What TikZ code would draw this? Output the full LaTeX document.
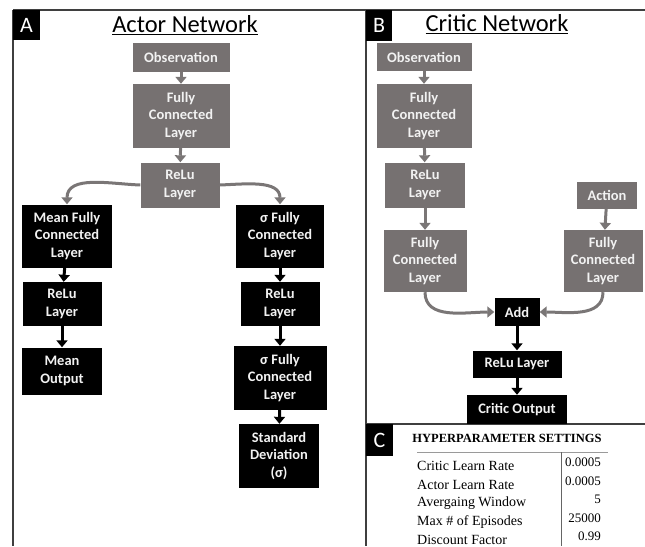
\documentclass[tikz,border=0pt]{standalone}
\usepackage{fontspec}
\setmainfont{Carlito}
\newfontfamily\tablefont{Liberation Serif}
\usepackage{xcolor}
\definecolor{BoxGray}{HTML}{767171}
\definecolor{ArrowGray}{HTML}{7A7676}
\definecolor{Frame}{HTML}{3F3F3F}
\definecolor{Rule}{HTML}{9A9A9A}
\definecolor{Ink}{HTML}{F2F2F2}
\usetikzlibrary{arrows.meta}

\begin{document}
\begin{tikzpicture}[
  x=1pt,y=1pt,
  layer/.style={inner sep=0pt,align=center,text=Ink,
    font=\bfseries\fontsize{14.5}{17.7}\selectfont},
  graybox/.style={layer,fill=BoxGray},
  blackbox/.style={layer,fill=black},
  tag/.style={fill=black,text=white,inner sep=0pt,font=\fontsize{22}{22}\selectfont},
  title/.style={font=\fontsize{24.5}{26}\selectfont},
  param/.style={font=\tablefont\fontsize{14}{16}\selectfont,inner sep=0pt},
  value/.style={param,font=\tablefont\fontsize{13}{15}\selectfont,anchor=east},
  grayarrow/.style={-{Triangle[length=7pt,width=11pt]},line width=3pt,draw=ArrowGray},
  blackarrow/.style={grayarrow,draw=black}
]
\useasboundingbox (0,0) rectangle (645,-546);

% panel frames
\draw[Frame,line width=1.5pt] (13,-10) -- (645,-10);
\draw[Frame,line width=1.5pt] (13,-10) -- (13,-546);
\draw[Frame,line width=1.5pt] (366,-10) -- (366,-546);
\draw[Frame,line width=1.5pt] (366,-424) -- (645,-424);

\node[tag,minimum width=27pt,minimum height=30pt] (tagA) at (26.5,-25) {A};
\node[tag,minimum width=26pt,minimum height=31pt] (tagB) at (379,-25.5) {B};
\node[tag,minimum width=27pt,minimum height=32pt] (tagC) at (379.5,-440) {C};

\node[title] (actortitle) at (185,-25) {\underline{Actor Network}};
\node[title] (critictitle) at (497,-24) {\underline{Critic Network}};

% actor network
\node[graybox,minimum width=97pt,minimum height=29pt] (aobs) at (181,-57) {Observation};
\node[graybox,minimum width=97pt,minimum height=64pt] (afc) at (181,-116) {Fully\\Connected\\Layer};
\node[graybox,minimum width=79pt,minimum height=45pt] (arelu) at (180,-185) {ReLu\\Layer};

\node[blackbox,minimum width=90pt,minimum height=63pt] (meanfc) at (67,-236) {Mean Fully\\Connected\\Layer};
\node[blackbox,minimum width=79pt,minimum height=44pt] (meanrelu) at (62,-304) {ReLu\\Layer};
\node[blackbox,minimum width=80pt,minimum height=47pt] (meanout) at (62,-371) {Mean\\Output};

\node[blackbox,minimum width=88pt,minimum height=63pt] (sigfc) at (280,-236) {σ Fully\\Connected\\Layer};
\node[blackbox,minimum width=79pt,minimum height=44pt] (sigrelu) at (280,-304) {ReLu\\Layer};
\node[blackbox,minimum width=93pt,minimum height=64pt] (sigfcb) at (280,-378) {σ Fully\\Connected\\Layer};
\node[blackbox,minimum width=80pt,minimum height=64pt] (stddev) at (279,-456) {Standard\\Deviation\\(σ)};

\draw[grayarrow] (aobs) -- (afc);
\draw[grayarrow] (afc) -- (arelu);
\draw[grayarrow] (arelu.west) to[out=178,in=90] (meanfc.north);
\draw[grayarrow] (arelu.east) to[out=2,in=90] (sigfc.north);
\draw[blackarrow] (meanfc) -- (meanrelu);
\draw[blackarrow] (meanrelu) -- (meanout);
\draw[blackarrow] (sigfc) -- (sigrelu);
\draw[blackarrow] (sigrelu) -- (sigfcb);
\draw[blackarrow] (sigfcb) -- (stddev);

% critic network
\node[graybox,minimum width=95pt,minimum height=28pt] (cobs) at (424,-57) {Observation};
\node[graybox,minimum width=95pt,minimum height=64pt] (cfc) at (424,-116) {Fully\\Connected\\Layer};
\node[graybox,minimum width=80pt,minimum height=45pt] (crelu) at (425,-185) {ReLu\\Layer};
\node[graybox,minimum width=83pt,minimum height=62pt] (cfcobs) at (425,-261) {Fully\\Connected\\Layer};
\node[graybox,minimum width=60pt,minimum height=27pt] (action) at (607,-195) {Action};
\node[graybox,minimum width=79pt,minimum height=62pt] (cfcact) at (603,-261) {Fully\\Connected\\Layer};
\node[blackbox,minimum width=45pt,minimum height=28pt] (add) at (517,-312) {Add};
\node[blackbox,minimum width=89pt,minimum height=27pt] (crelub) at (517,-364) {ReLu Layer};
\node[blackbox,minimum width=100pt,minimum height=29pt] (cout) at (517,-409.5) {Critic Output};

\draw[grayarrow] (cobs) -- (cfc);
\draw[grayarrow] (cfc) -- (crelu);
\draw[grayarrow] (crelu) -- (cfcobs);
\draw[grayarrow] (action) -- (cfcact);
\draw[grayarrow] (cfcobs.south) to[out=-90,in=180] (add.west);
\draw[grayarrow] (cfcact.south) to[out=-90,in=0] (add.east);
\draw[blackarrow] (add) -- (crelub);
\draw[blackarrow] (crelub) -- (cout);

% hyperparameter table
\node[font=\tablefont\bfseries\fontsize{12.5}{14}\selectfont,inner sep=0pt] (hptitle) at (507,-438) {HYPERPARAMETER SETTINGS};
\draw[Rule,line width=1pt] (417,-452) -- (608,-452);
\draw[Frame!80,line width=0.8pt] (561,-452) -- (561,-546);

\node[param,anchor=west] (critlr) at (417,-466) {Critic Learn Rate};
\node[param,anchor=west] (actlr) at (417,-485) {Actor Learn Rate};
\node[param,anchor=west] (avgwin) at (417,-503.5) {Avergaing Window};
\node[param,anchor=west] (maxep) at (417,-522) {Max \# of Episodes};
\node[param,anchor=west] (discount) at (417,-539.5) {Discount Factor};

\node[value] (critlrval) at (601,-462) {0.0005};
\node[value] (actlrval) at (601,-481) {0.0005};
\node[value] (avgwinval) at (601,-499.5) {5};
\node[value] (maxepval) at (601,-518.5) {25000};
\node[value] (discountval) at (601,-536) {0.99};
\end{tikzpicture}
\end{document}
